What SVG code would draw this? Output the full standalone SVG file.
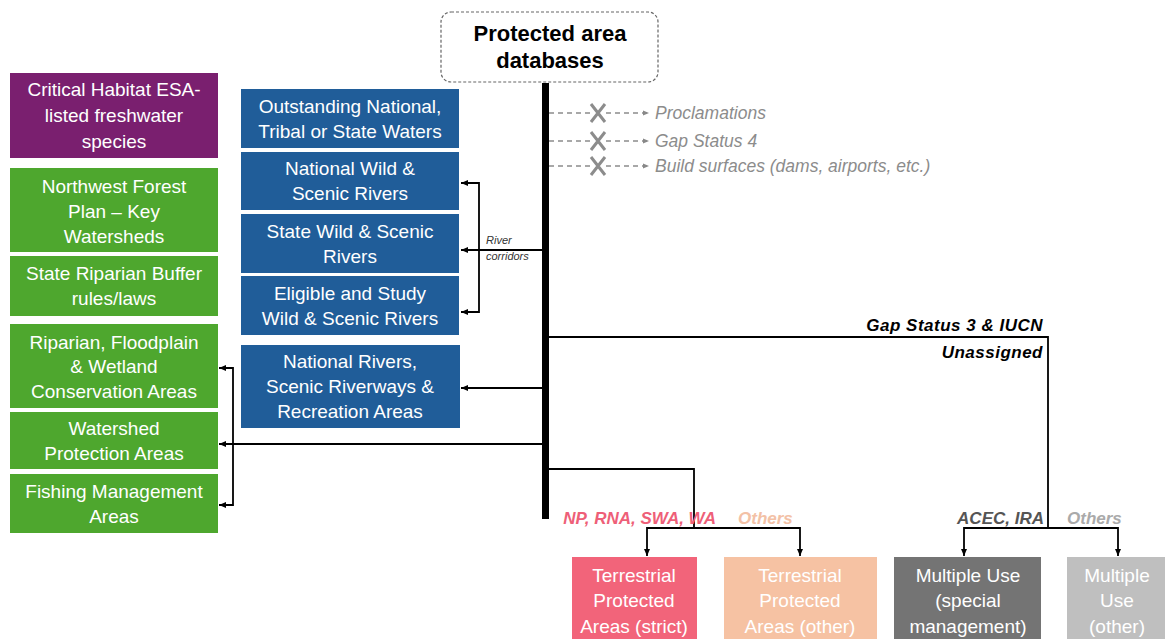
<svg xmlns="http://www.w3.org/2000/svg" width="1165" height="639" viewBox="0 0 1165 639">
<defs>
<marker id="ah" markerWidth="8" markerHeight="8" refX="7" refY="4" orient="auto" markerUnits="userSpaceOnUse"><path d="M0,1 L7,4 L0,7 Z" fill="#000"/></marker>
<marker id="ahg" markerWidth="8" markerHeight="8" refX="7" refY="4" orient="auto" markerUnits="userSpaceOnUse"><path d="M0,1.5 L6,4 L0,6.5 Z" fill="#888"/></marker>
<style>
.t{font-family:"Liberation Sans",Arial,sans-serif;font-size:19px;fill:#fff;text-anchor:middle}
.purple{fill:#7a1f6f}
.green{fill:#4ea72e}
.blue{fill:#205d99}
.c{fill:none;stroke:#000;stroke-width:1.8}
.d{fill:none;stroke:#8c8c8c;stroke-width:1.5;stroke-dasharray:5,4}
.x{stroke:#8c8c8c;stroke-width:3;fill:none}
.gl{font-family:"Liberation Sans",Arial,sans-serif;font-size:17.5px;font-style:italic;fill:#8c8c8c}
.bl{font-family:"Liberation Sans",Arial,sans-serif;font-size:17px;font-style:italic;font-weight:bold}
</style>
</defs>
<rect width="1165" height="639" fill="#fff"/>

<g id="root">
<rect x="441" y="12" width="217" height="70" rx="10" fill="#fff" stroke="#666" stroke-width="1.2" stroke-dasharray="3,2"/>
<text x="550" y="41" font-family="Liberation Sans,Arial,sans-serif" font-size="22" font-weight="bold" text-anchor="middle">Protected area</text>
<text x="550" y="68" font-family="Liberation Sans,Arial,sans-serif" font-size="22" font-weight="bold" text-anchor="middle">databases</text>
</g>

<g id="connectors">
<line x1="545.5" y1="83" x2="545.5" y2="519" stroke="#000" stroke-width="7"/>
<line class="d" x1="549" y1="113" x2="590" y2="113"/><line class="d" x1="606" y1="113" x2="650" y2="113" marker-end="url(#ahg)"/>
<line class="d" x1="549" y1="141" x2="590" y2="141"/><line class="d" x1="606" y1="141" x2="650" y2="141" marker-end="url(#ahg)"/>
<line class="d" x1="549" y1="166" x2="590" y2="166"/><line class="d" x1="606" y1="166" x2="650" y2="166" marker-end="url(#ahg)"/>
<path class="x" d="M591,104 L605,122 M605,104 L591,122"/>
<path class="x" d="M591,132 L605,150 M605,132 L591,150"/>
<path class="x" d="M591,157 L605,175 M605,157 L591,175"/>
<path class="c" d="M542,250 L461,250" marker-end="url(#ah)"/>
<path class="c" d="M461,183 L479,183 L479,312 L461,312"/>
<path class="c" d="M472,183 L461,183" marker-end="url(#ah)"/>
<path class="c" d="M472,312 L461,312" marker-end="url(#ah)"/>
<text x="486" y="244" font-family="Liberation Sans,Arial,sans-serif" font-size="11" font-style="italic" fill="#333">River</text>
<text x="486" y="260" font-family="Liberation Sans,Arial,sans-serif" font-size="11" font-style="italic" fill="#333">corridors</text>
<path class="c" d="M542,388 L461,388" marker-end="url(#ah)"/>
<path class="c" d="M542,444 L219,444" marker-end="url(#ah)"/>
<path class="c" d="M219,368 L233,368 L233,505 L219,505"/>
<path class="c" d="M226,368 L219,368" marker-end="url(#ah)"/>
<path class="c" d="M226,505 L219,505" marker-end="url(#ah)"/>
<path class="c" d="M548,337 L1048,337 L1048,528"/>
<text class="bl" x="1043" y="331" text-anchor="end" fill="#000" font-size="20" letter-spacing="0.5">Gap Status 3 &amp; IUCN</text>
<text class="bl" x="1043" y="358" text-anchor="end" fill="#000" font-size="20" letter-spacing="0.5">Unassigned</text>
<path class="c" d="M964,528 L1118,528"/>
<path class="c" d="M964,527 L964,556" marker-end="url(#ah)"/>
<path class="c" d="M1118,527 L1118,556" marker-end="url(#ah)"/>
<text class="bl" x="1044" y="524" text-anchor="end" fill="#555">ACEC, IRA</text>
<text class="bl" x="1067" y="524" fill="#aaa">Others</text>
<path class="c" d="M548,469 L694,469 L694,528"/>
<path class="c" d="M647,528 L800,528"/>
<path class="c" d="M647,527 L647,556" marker-end="url(#ah)"/>
<path class="c" d="M800,527 L800,556" marker-end="url(#ah)"/>
<text class="bl" x="716" y="524" text-anchor="end" fill="#ee5f78">NP, RNA, SWA, WA</text>
<text class="bl" x="738" y="524" fill="#f3c1a6">Others</text>
</g>

<g id="excluded-labels">
<text class="gl" x="655" y="119">Proclamations</text>
<text class="gl" x="655" y="147">Gap Status 4</text>
<text class="gl" x="655" y="172">Build surfaces (dams, airports, etc.)</text>
</g>

<g id="critical-habitat"><rect class="purple" x="10" y="73" width="208" height="85"/>
<text class="t" x="114" y="96">Critical Habitat ESA-</text><text class="t" x="114" y="122">listed freshwater</text><text class="t" x="114" y="148">species</text></g>
<g id="nwfp"><rect class="green" x="10" y="168" width="208" height="84"/>
<text class="t" x="114" y="193">Northwest Forest</text><text class="t" x="114" y="218">Plan – Key</text><text class="t" x="114" y="243">Watersheds</text></g>
<g id="state-riparian"><rect class="green" x="10" y="256" width="208" height="60"/>
<text class="t" x="114" y="280">State Riparian Buffer</text><text class="t" x="114" y="305">rules/laws</text></g>
<g id="riparian-floodplain"><rect class="green" x="10" y="324" width="208" height="84"/>
<text class="t" x="114" y="349">Riparian, Floodplain</text><text class="t" x="114" y="373">&amp; Wetland</text><text class="t" x="114" y="398">Conservation Areas</text></g>
<g id="watershed"><rect class="green" x="10" y="412" width="208" height="57"/>
<text class="t" x="114" y="435">Watershed</text><text class="t" x="114" y="460">Protection Areas</text></g>
<g id="fishing"><rect class="green" x="10" y="474" width="208" height="59"/>
<text class="t" x="114" y="498">Fishing Management</text><text class="t" x="114" y="523">Areas</text></g>

<g id="outstanding"><rect class="blue" x="241" y="89" width="218" height="59"/>
<text class="t" x="350" y="113">Outstanding National,</text><text class="t" x="350" y="138">Tribal or State Waters</text></g>
<g id="national-wsr"><rect class="blue" x="241" y="152" width="218" height="58"/>
<text class="t" x="350" y="175">National Wild &amp;</text><text class="t" x="350" y="200">Scenic Rivers</text></g>
<g id="state-wsr"><rect class="blue" x="241" y="214" width="218" height="59"/>
<text class="t" x="350" y="238">State Wild &amp; Scenic</text><text class="t" x="350" y="263">Rivers</text></g>
<g id="eligible-wsr"><rect class="blue" x="241" y="276" width="218" height="59"/>
<text class="t" x="350" y="300">Eligible and Study</text><text class="t" x="350" y="325">Wild &amp; Scenic Rivers</text></g>
<g id="national-rivers"><rect class="blue" x="241" y="345" width="219" height="83"/>
<text class="t" x="350" y="368">National Rivers,</text><text class="t" x="350" y="393">Scenic Riverways &amp;</text><text class="t" x="350" y="418">Recreation Areas</text></g>

<g id="terrestrial-strict"><rect x="572" y="557" width="125" height="82" fill="#f2647a"/>
<text class="t" x="634" y="582">Terrestrial</text><text class="t" x="634" y="607">Protected</text><text class="t" x="634" y="633">Areas (strict)</text></g>
<g id="terrestrial-other"><rect x="724" y="557" width="153" height="82" fill="#f6c2a3"/>
<text class="t" x="800" y="582">Terrestrial</text><text class="t" x="800" y="607">Protected</text><text class="t" x="800" y="633">Areas (other)</text></g>
<g id="multiple-special"><rect x="894" y="557" width="147" height="82" fill="#747474"/>
<text class="t" x="968" y="582">Multiple Use</text><text class="t" x="968" y="607">(special</text><text class="t" x="968" y="633">management)</text></g>
<g id="multiple-other"><rect x="1067" y="557" width="98" height="82" fill="#bfbfbf"/>
<text class="t" x="1117" y="582">Multiple</text><text class="t" x="1117" y="607">Use</text><text class="t" x="1117" y="633">(other)</text></g>
</svg>
